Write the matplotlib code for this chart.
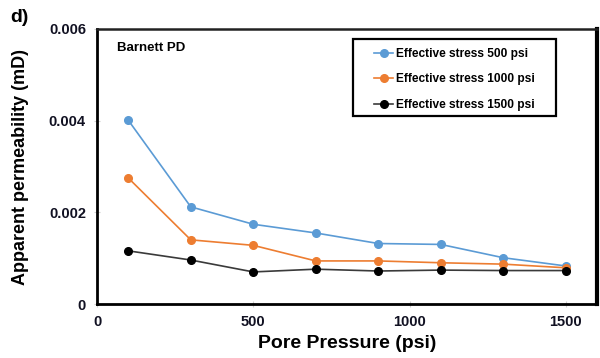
import matplotlib
matplotlib.use('Agg')
import matplotlib.pyplot as plt
from matplotlib.patches import Rectangle

plt.rcParams['font.family'] = ['Liberation Sans', 'DejaVu Sans']
plt.rcParams['font.weight'] = 'bold'

pore_pressure = [100, 300, 500, 700, 900, 1100, 1300, 1500]
perm_500 = [0.00401, 0.00212, 0.00174, 0.00155, 0.00132, 0.00130, 0.00101, 0.00083]
perm_1000 = [0.00275, 0.00140, 0.00128, 0.00094, 0.00094, 0.00090, 0.00087, 0.00079]
perm_1500 = [0.00116, 0.00096, 0.00070, 0.00076, 0.00072, 0.00074, 0.00073, 0.00073]

xticks = [0, 500, 1000, 1500]
yticks = [0, 0.002, 0.004, 0.006]
ytick_labels = ['0', '0.002', '0.004', '0.006']

fig = plt.figure(figsize=(6, 3.58), dpi=100)
ax = fig.add_axes([0.1617, 0.1508, 0.8333, 0.7682])

ax.plot(pore_pressure, perm_500, '-o', color='#5B9BD5', lw=1.2, ms=5.5,
        label='Effective stress 500 psi')
ax.plot(pore_pressure, perm_1000, '-o', color='#ED7D31', lw=1.2, ms=5.5,
        label='Effective stress 1000 psi')
ax.plot(pore_pressure, perm_1500, '-o', color='#3a3a3a', mfc='black', mec='black',
        lw=1.2, ms=5.5, label='Effective stress 1500 psi')

ax.set_xlim(0, 1600)
ax.set_ylim(0, 0.006)
ax.set_xticks(xticks)
ax.set_yticks(yticks)
ax.set_yticklabels(ytick_labels)
ax.tick_params(axis='both', direction='inout', length=4, width=0.8,
               color='#d0d0d0', labelsize=10.5, labelcolor='#111122', pad=6)
for lab in ax.get_xticklabels() + ax.get_yticklabels():
    lab.set_fontweight('bold')

# shadowed frame: heavier on the right
ax.spines['left'].set_linewidth(2.0)
ax.spines['bottom'].set_linewidth(2.0)
ax.spines['top'].set_linewidth(1.8)
ax.spines['top'].set_color('#222222')
ax.spines['right'].set_linewidth(3.0)

ax.set_xlabel('Pore Pressure (psi)', fontsize=14, fontweight='bold', labelpad=4)
ax.set_ylabel('Apparent permeability (mD)', fontsize=13, fontweight='bold', labelpad=14)

ax.text(0.04, 0.93, 'Barnett PD', transform=ax.transAxes, fontsize=9.5,
        fontweight='bold', va='center', ha='left')
fig.text(0.017, 0.952, 'd)', fontsize=14, fontweight='bold', va='center', ha='left')

# legend entries without frame, box drawn separately for wider padding
leg = ax.legend(loc='upper left', bbox_to_anchor=(0.554, 0.932), fontsize=8.6,
                frameon=False, borderpad=0, labelspacing=1.15, handlelength=1.6,
                handletextpad=0.25, borderaxespad=0)
for t in leg.get_texts():
    t.set_fontweight('bold')
ax.add_patch(Rectangle((0.512, 0.684), 0.406, 0.28, transform=ax.transAxes,
                       fill=False, edgecolor='black', lw=1.6, zorder=5))

fig.savefig('out.png', dpi=100)
